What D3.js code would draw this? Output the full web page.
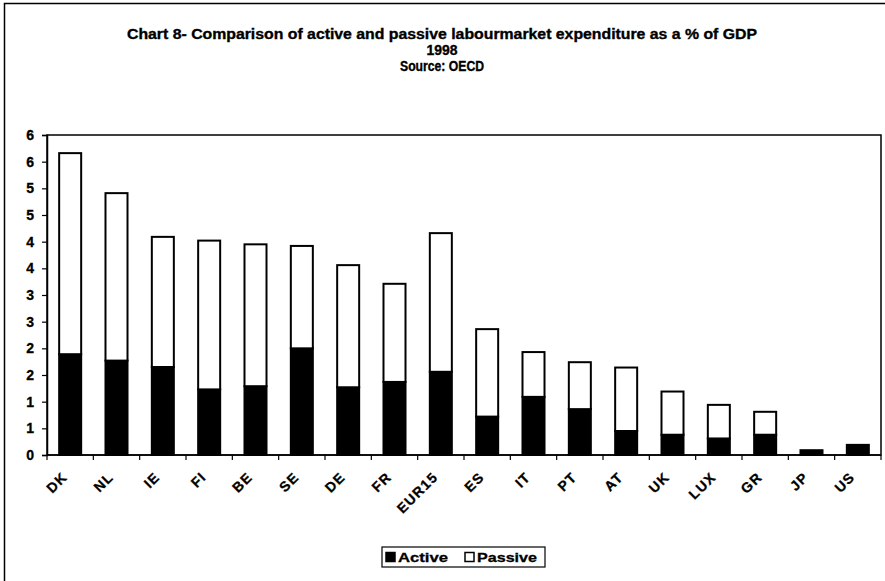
<!DOCTYPE html>
<html>
<head>
<meta charset="utf-8">
<script src="https://cdn.jsdelivr.net/npm/d3@7"></script>
<style>
  html, body { margin: 0; padding: 0; background: #fff; }
  svg { display: block; }
  text { fill: #000; }
</style>
</head>
<body>
<svg id="chart" width="885" height="581"></svg>
<script>
// Labour market expenditure, % of GDP, 1998 (OECD)
const countries = ["DK", "NL", "IE", "FI", "BE", "SE", "DE", "FR", "EUR15", "ES", "IT", "PT", "AT", "UK", "LUX", "GR", "JP", "US"];
const active  = [1.89, 1.77, 1.65, 1.23, 1.29, 2.00, 1.27, 1.37, 1.56, 0.72, 1.09, 0.86, 0.45, 0.38, 0.31, 0.38, 0.09, 0.19];
const passive = [3.77, 3.14, 2.44, 2.79, 2.66, 1.92, 2.29, 1.84, 2.60, 1.64, 0.84, 0.88, 1.19, 0.81, 0.63, 0.43, 0.00, 0.00];
const yTicks = [0, 0.5, 1, 1.5, 2, 2.5, 3, 3.5, 4, 4.5, 5, 5.5, 6];
const seriesNames = ["Active", "Passive"];
const titleLines = [
  "Chart 8- Comparison of active and passive labourmarket expenditure as a % of GDP",
  "1998",
  "Source: OECD"
];

const svg = d3.select("#chart");
const FONT = "'Liberation Sans Narrow', 'Arial Narrow', 'Liberation Sans', Arial, sans-serif";
const plot = { left: 47, right: 881, top: 135, bottom: 455 };

// outer frame
svg.append("path")
  .attr("d", "M4.5,581 L4.5,3.5 L885,3.5")
  .attr("fill", "none").attr("stroke", "#000").attr("stroke-width", 1.5);

// title
const titleG = svg.append("g")
  .attr("font-family", FONT).attr("font-weight", "bold").attr("font-size", 14.5)
  .attr("text-anchor", "middle")
  .attr("stroke", "#000").attr("stroke-width", 0.35);
const titleWidths = [630, 31, 84];
const titleY = [38.5, 55, 71];
titleLines.forEach((t, i) => {
  titleG.append("text")
    .attr("x", 442).attr("y", titleY[i])
    .attr("textLength", titleWidths[i]).attr("lengthAdjust", "spacingAndGlyphs")
    .text(t);
});

// scales
const x = d3.scaleBand()
  .domain(countries)
  .range([plot.left, plot.right])
  .paddingInner(0.525)
  .paddingOuter(0.2625);
const y = d3.scaleLinear().domain([0, 6]).range([plot.bottom, plot.top]);

const rows = countries.map((c, i) => ({ country: c, active: active[i], passive: passive[i] }));
const stacked = d3.stack().keys(["active", "passive"])(rows);

// plot area frame
svg.append("rect")
  .attr("x", plot.left).attr("y", plot.top)
  .attr("width", plot.right - plot.left).attr("height", plot.bottom - plot.top)
  .attr("fill", "none").attr("stroke", "#000").attr("stroke-width", 1.5);

// bars
const fills = { active: "#000", passive: "#fff" };
svg.append("g").selectAll("g")
  .data(stacked)
  .join("g")
  .attr("fill", d => fills[d.key])
  .attr("stroke", "#000").attr("stroke-width", 2)
  .selectAll("rect")
  .data(d => d.filter(s => s[1] - s[0] > 0))
  .join("rect")
  .attr("x", d => x(d.data.country))
  .attr("width", x.bandwidth())
  .attr("y", d => y(d[1]))
  .attr("height", d => y(d[0]) - y(d[1]));

// y axis
const yAxis = d3.axisLeft(y)
  .tickValues(yTicks)
  .tickSize(5)
  .tickFormat(d => String(Math.round(d)));
const yG = svg.append("g")
  .attr("transform", `translate(${plot.left},0)`)
  .call(yAxis);
yG.select(".domain").attr("stroke-width", 1.5);
yG.selectAll("line").attr("stroke-width", 1.2);
yG.selectAll("text")
  .attr("font-family", "'Liberation Sans', Arial, sans-serif")
  .attr("font-weight", "bold").attr("font-size", 14)
  .attr("stroke", "#000").attr("stroke-width", 0.3)
  .attr("x", -13);

// x axis: ticks at category boundaries
const step = x.step();
const boundaries = countries.map(c => x(c) + x.bandwidth() / 2 + step / 2);
const xG = svg.append("g");
xG.append("line")
  .attr("x1", plot.left).attr("x2", plot.right)
  .attr("y1", plot.bottom).attr("y2", plot.bottom)
  .attr("stroke", "#000").attr("stroke-width", 1.5);
xG.selectAll("line.tick")
  .data([plot.left].concat(boundaries))
  .join("line").attr("class", "tick")
  .attr("x1", d => d).attr("x2", d => d)
  .attr("y1", plot.bottom).attr("y2", plot.bottom + 5)
  .attr("stroke", "#000").attr("stroke-width", 1.2);
xG.selectAll("text")
  .data(countries)
  .join("text")
  .attr("transform", c => `translate(${x(c) + x.bandwidth() / 2 - 2},${plot.bottom + 23}) rotate(-45)`)
  .attr("text-anchor", "end")
  .attr("font-family", "'Liberation Sans', Arial, sans-serif")
  .attr("font-weight", "bold").attr("font-size", 14)
  .attr("letter-spacing", 1.2)
  .attr("stroke", "#000").attr("stroke-width", 0.3)
  .text(c => c);

// legend
const lg = svg.append("g").attr("transform", "translate(382,547)");
lg.append("rect").attr("width", 163).attr("height", 20)
  .attr("fill", "#fff").attr("stroke", "#000").attr("stroke-width", 1.2);
const legendX = [4, 83];
const legendW = [50, 60];
seriesNames.forEach((name, i) => {
  const key = name.toLowerCase();
  lg.append("rect")
    .attr("x", legendX[i]).attr("y", 5.5).attr("width", 9).attr("height", 9)
    .attr("fill", fills[key]).attr("stroke", "#000").attr("stroke-width", 1.5);
  lg.append("text")
    .attr("x", legendX[i] + 12).attr("y", 15)
    .attr("font-family", FONT).attr("font-weight", "bold").attr("font-size", 13)
    .attr("stroke", "#000").attr("stroke-width", 0.3)
    .attr("textLength", legendW[i]).attr("lengthAdjust", "spacingAndGlyphs")
    .text(name);
});
</script>
</body>
</html>
